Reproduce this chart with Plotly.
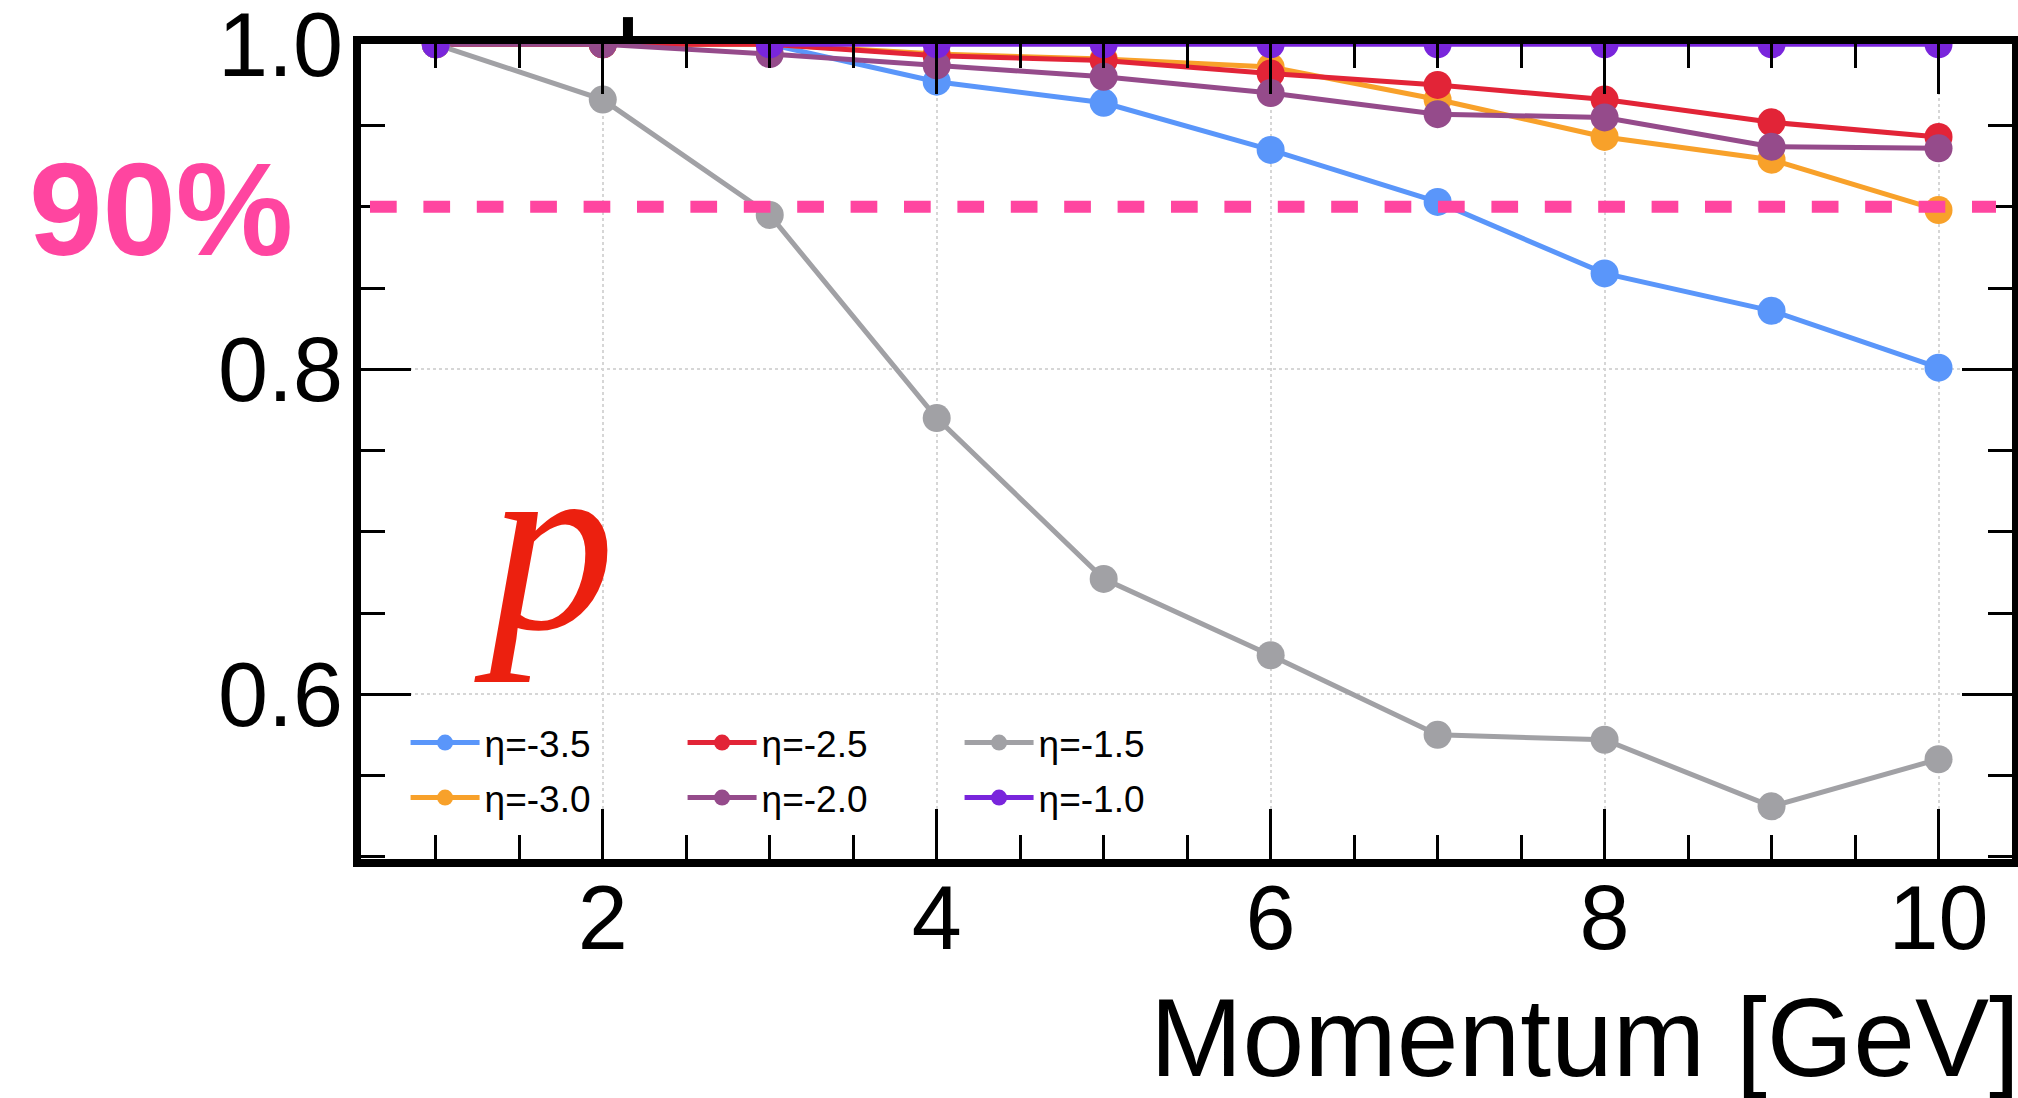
import plotly.graph_objects as go

# ---------------- data ----------------
momentum = [1, 2, 3, 4, 5, 6, 7, 8, 9, 10]
eff_eta_m35 = [1.0, 1.0, 1.0, 0.977, 0.964, 0.935, 0.903, 0.859, 0.836, 0.801]
eff_eta_m30 = [1.0, 1.0, 1.0, 0.994, 0.991, 0.986, 0.966, 0.943, 0.929, 0.898]
eff_eta_m25 = [1.0, 1.0, 1.0, 0.993, 0.990, 0.982, 0.975, 0.966, 0.952, 0.943]
eff_eta_m20 = [1.0, 1.0, 0.994, 0.987, 0.980, 0.970, 0.957, 0.955, 0.937, 0.936]
eff_eta_m15 = [1.0, 0.966, 0.895, 0.770, 0.671, 0.624, 0.575, 0.572, 0.531, 0.560]
eff_eta_m10 = [1.0, None, 1.0, 1.0, 1.0, 1.0, 1.0, 1.0, 1.0, 1.0]

series_names = ["η=-3.5", "η=-3.0", "η=-2.5", "η=-2.0", "η=-1.5", "η=-1.0"]
series_values = [eff_eta_m35, eff_eta_m30, eff_eta_m25, eff_eta_m20, eff_eta_m15, eff_eta_m10]
series_colors = ["#5a96fa", "#f8a12a", "#e22437", "#954b8b", "#a1a1a5", "#7925dc"]
series_legend = ["legend", "legend2", "legend", "legend2", "legend", "legend2"]
series_rank = [1, 1, 2, 2, 3, 3]

threshold = 0.9
threshold_label = "90%"
particle_label = "p"
x_title = "Momentum [GeV]"

PINK = "#ff45a0"
FONT = "Liberation Sans, Arial, sans-serif"

fig = go.Figure()
for name, vals, col, leg, rk in zip(series_names, series_values, series_colors,
                                     series_legend, series_rank):
    fig.add_trace(go.Scatter(
        x=momentum, y=vals, name=name, mode="lines+markers",
        line=dict(color=col, width=5),
        marker=dict(color=col, size=28),
        legend=leg, legendrank=rk, cliponaxis=True,
    ))

# threshold line
fig.add_shape(type="line", xref="paper", yref="y", x0=0.00545, x1=0.9903,
              y0=threshold, y1=threshold,
              line=dict(color=PINK, width=12, dash="26.7px,26.7px"), layer="above")
# small cropped tick artifact above frame
fig.add_shape(type="line", xref="paper", yref="paper", x0=0.1617, x1=0.1617,
              y0=1.0, y1=1.033, line=dict(color="black", width=10), layer="above")

fig.add_annotation(text="<b>" + threshold_label + "</b>", xref="paper", yref="paper",
                   x=-0.1211, y=0.7975, xanchor="center", yanchor="middle",
                   showarrow=False, font=dict(family=FONT, size=132, color=PINK))
fig.add_annotation(text="<i>" + particle_label + "</i>", xref="paper", yref="paper",
                   x=0.1114, y=0.3877, xanchor="center", yanchor="middle",
                   showarrow=False,
                   font=dict(family="Liberation Serif, Times New Roman, serif",
                             size=252, color="#ec200f"))
fig.add_annotation(text=x_title, xref="paper", yref="paper",
                   x=1.0, y=-0.2196, xanchor="right", yanchor="middle", xshift=10,
                   showarrow=False, font=dict(family=FONT, size=111, color="black"))

axis_common = dict(
    ticks="inside", ticklen=50, tickwidth=2.5, tickcolor="black",
    showline=True, linewidth=8, linecolor="black", mirror="allticks",
    showgrid=True, gridcolor="#d6d6d6", griddash="dot", gridwidth=2,
    zeroline=False, ticklabeloverflow="allow", automargin=False,
    tickfont=dict(family=FONT, size=90, color="black"),
)

legend_common = dict(
    orientation="h", x=0.027, xanchor="left", yanchor="middle",
    bgcolor="rgba(0,0,0,0)", font=dict(family=FONT, size=37, color="black"),
    itemwidth=69, entrywidth=193, entrywidthmode="pixels",
)

fig.update_layout(
    width=2018, height=1098,
    margin=dict(l=361, r=6, t=44, b=239, autoexpand=False),
    paper_bgcolor="white", plot_bgcolor="white",
    font=dict(family=FONT, color="black"),
    xaxis=dict(range=[0.552, 10.44], tickmode="linear", tick0=0, dtick=2,
               ticklabelstandoff=-26,
               minor=dict(tick0=0, dtick=0.5, ticks="inside", ticklen=24,
                          tickwidth=2.5, tickcolor="black", showgrid=False),
               **axis_common),
    yaxis=dict(range=[0.4986, 1.0002], tickmode="linear", tick0=0, dtick=0.2,
               tickformat=".1f", ticklabelstandoff=-8,
               minor=dict(tick0=0, dtick=0.05, ticks="inside", ticklen=24,
                          tickwidth=2.5, tickcolor="black", showgrid=False),
               **axis_common),
    legend=dict(y=0.1423, **legend_common),
    legend2=dict(y=0.0748, **legend_common),
    showlegend=True,
)

fig.write_html("out.html", config={"displayModeBar": False},
               post_script="document.body.style.margin='0';")
